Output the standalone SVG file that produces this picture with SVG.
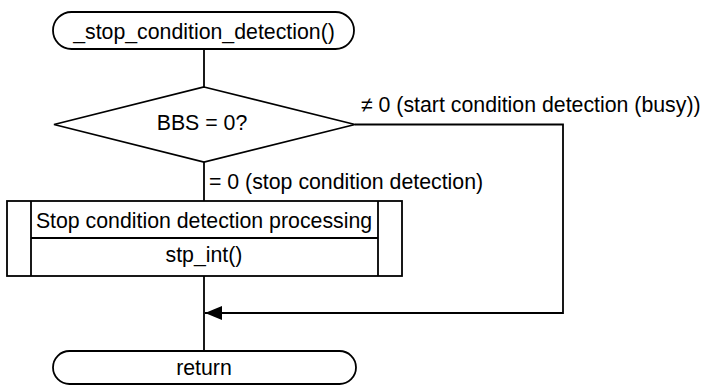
<svg xmlns="http://www.w3.org/2000/svg" width="702" height="386" viewBox="0 0 702 386">
<defs>
<style>
.s{fill:#fff;stroke:#000;stroke-width:1.8}
.l{fill:none;stroke:#000;stroke-width:1.8}
text{font-family:"Liberation Sans",Arial,sans-serif;font-size:21.3px;fill:#000}
.c{text-anchor:middle}
</style>
<marker id="arr" markerWidth="18" markerHeight="14" refX="17" refY="7" orient="auto" markerUnits="userSpaceOnUse">
<path d="M0,0 L17,7 L0,14 Z" fill="#000"/>
</marker>
</defs>
<g id="connectors">
<line class="l" x1="204" y1="49" x2="204" y2="87"/>
<line class="l" x1="204" y1="162" x2="204" y2="201"/>
<line class="l" x1="204" y1="276" x2="204" y2="351"/>
<polyline class="l" points="355,124.5 563,124.5 563,313 205,313" marker-end="url(#arr)"/>
<text x="361" y="112">≠ 0 (start condition detection (busy))</text>
<text x="209" y="189">= 0 (stop condition detection)</text>
</g>
<g id="start">
<rect class="s" x="53" y="12" width="301" height="37" rx="18.5" ry="18.5"/>
<text class="c" x="204" y="39">_stop_condition_detection()</text>
</g>
<g id="decision">
<polygon class="s" points="204,87 355,124.5 204,162 54,124.5"/>
<text class="c" x="202" y="130">BBS = 0?</text>
</g>
<g id="process">
<rect class="s" x="7" y="201" width="395" height="75"/>
<line class="l" x1="31" y1="201" x2="31" y2="276"/>
<line class="l" x1="378" y1="201" x2="378" y2="276"/>
<line class="l" x1="31" y1="238" x2="378" y2="238"/>
<text class="c" x="204" y="228">Stop condition detection processing</text>
<text class="c" x="204" y="262">stp_int()</text>
</g>
<g id="return">
<rect class="s" x="53" y="351" width="303" height="33" rx="16.5" ry="16.5"/>
<text class="c" x="204" y="375">return</text>
</g>
</svg>
